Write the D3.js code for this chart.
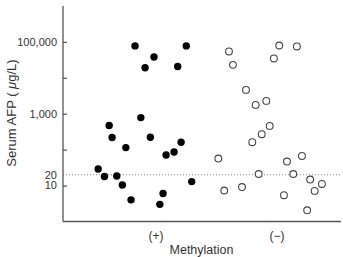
<!DOCTYPE html>
<html>
<head>
<meta charset="utf-8">
<script src="https://cdn.jsdelivr.net/npm/d3@7"></script>
<style>
  body { margin: 0; background: #fff; }
  text { font-family: "Liberation Sans", Arial, sans-serif; fill: #333; }
</style>
</head>
<body>
<div id="chart"></div>
<script>
// categories
const categories = ["(+)", "(\u2212)"];
const cutoff = 20;

// y ticks (log scale)
const tickValues = [10, 100, 1000, 10000, 100000];
const tickLabels = { 10: "10", 20: "20", 1000: "1,000", 100000: "100,000" };

// methylation (+): jittered x (category units) and AFP values
const posX = [0.826, 1.250, 0.983, 0.909, 1.179, 0.874, 0.612, 0.636, 0.953, 0.750, 1.207,
              1.149, 1.083, 0.521, 0.573, 0.675, 0.721, 1.295, 1.058, 0.793, 1.031];
const posAFP = [77000, 77000, 38000, 19000, 20600, 780, 470, 217, 221, 114, 161,
                86, 71, 29, 17.8, 18.5, 10.4, 12.9, 6.0, 4.0, 3.0];

// methylation (−)
const negX = [1.603, 2.019, 2.165, 1.636, 1.975, 1.744, 1.824, 1.912, 1.940, 1.874, 1.796, 1.515,
              2.207, 2.083, 1.849, 2.135, 2.275, 2.372, 2.312, 1.564, 1.711, 2.058, 2.250];
const negAFP = [54000, 79000, 74500, 22900, 34500, 4600, 1760, 2270, 457, 269, 161, 56.5,
                66.8, 46.6, 21, 21, 14.7, 11.1, 7.1, 7.3, 9.1, 5.4, 2.05];

const width = 343, height = 257;
const svg = d3.select("#chart").append("svg")
    .attr("width", width)
    .attr("height", height);

let x = d3.scaleLinear().domain([0.23, 2.53]).range([63, 341]);
let y = d3.scaleLog().domain([1, 1e6]).range([221.5, 5.9]);

// cutoff line
svg.append("line")
    .attr("x1", x(0.23)).attr("x2", 342)
    .attr("y1", y(cutoff)).attr("y2", y(cutoff))
    .attr("stroke", "#888")
    .attr("stroke-width", 1)
    .attr("stroke-dasharray", "1,2");

// y axis (ticks pointing inward)
let yAxis = d3.axisRight(y).tickValues(tickValues).tickSize(4).tickFormat("");
let gy = svg.append("g").attr("transform", "translate(" + x(0.23) + ",0)").call(yAxis);
gy.select(".domain").attr("d", "M0," + y(1e6) + "V" + y(1)).attr("stroke", "#555").attr("stroke-width", 1.3);
gy.selectAll(".tick line").attr("stroke", "#555").attr("stroke-width", 1.2);

// y tick labels
svg.append("g").selectAll("text")
    .data(Object.keys(tickLabels).map(Number))
    .enter()
    .append("text")
    .attr("x", 57)
    .attr("y", function (d) { return y(d); })
    .attr("dy", "0.35em")
    .attr("text-anchor", "end")
    .style("font-size", "11px")
    .text(function (d) { return tickLabels[d]; });

// x axis
svg.append("line")
    .attr("x1", x(0.23)).attr("x2", x(2.53))
    .attr("y1", y(1)).attr("y2", y(1))
    .attr("stroke", "#555").attr("stroke-width", 1.3);

svg.append("g").selectAll("text")
    .data(categories)
    .enter()
    .append("text")
    .attr("x", function (d, i) { return x(i + 1); })
    .attr("y", 240)
    .attr("text-anchor", "middle")
    .style("font-size", "12px")
    .text(function (d) { return d; });

svg.append("text")
    .attr("x", 201.5)
    .attr("y", 253.5)
    .attr("text-anchor", "middle")
    .style("font-size", "12.5px")
    .text("Methylation");

// y label
let ylab = svg.append("text")
    .attr("transform", "translate(16,113) rotate(-90)")
    .attr("text-anchor", "middle")
    .style("font-size", "13px");
ylab.append("tspan").text("Serum AFP ( ");
ylab.append("tspan").style("font-style", "italic").text("\u03bc");
ylab.append("tspan").text("g/L)");

// points
svg.append("g").selectAll("circle")
    .data(posAFP)
    .enter()
    .append("circle")
    .attr("cx", function (d, i) { return x(posX[i]); })
    .attr("cy", function (d) { return y(d); })
    .attr("r", 3.7)
    .attr("fill", "#000");

svg.append("g").selectAll("circle")
    .data(negAFP)
    .enter()
    .append("circle")
    .attr("cx", function (d, i) { return x(negX[i]); })
    .attr("cy", function (d) { return y(d); })
    .attr("r", 3.4)
    .attr("fill", "#fff")
    .attr("stroke", "#444")
    .attr("stroke-width", 1.1);
</script>
</body>
</html>
